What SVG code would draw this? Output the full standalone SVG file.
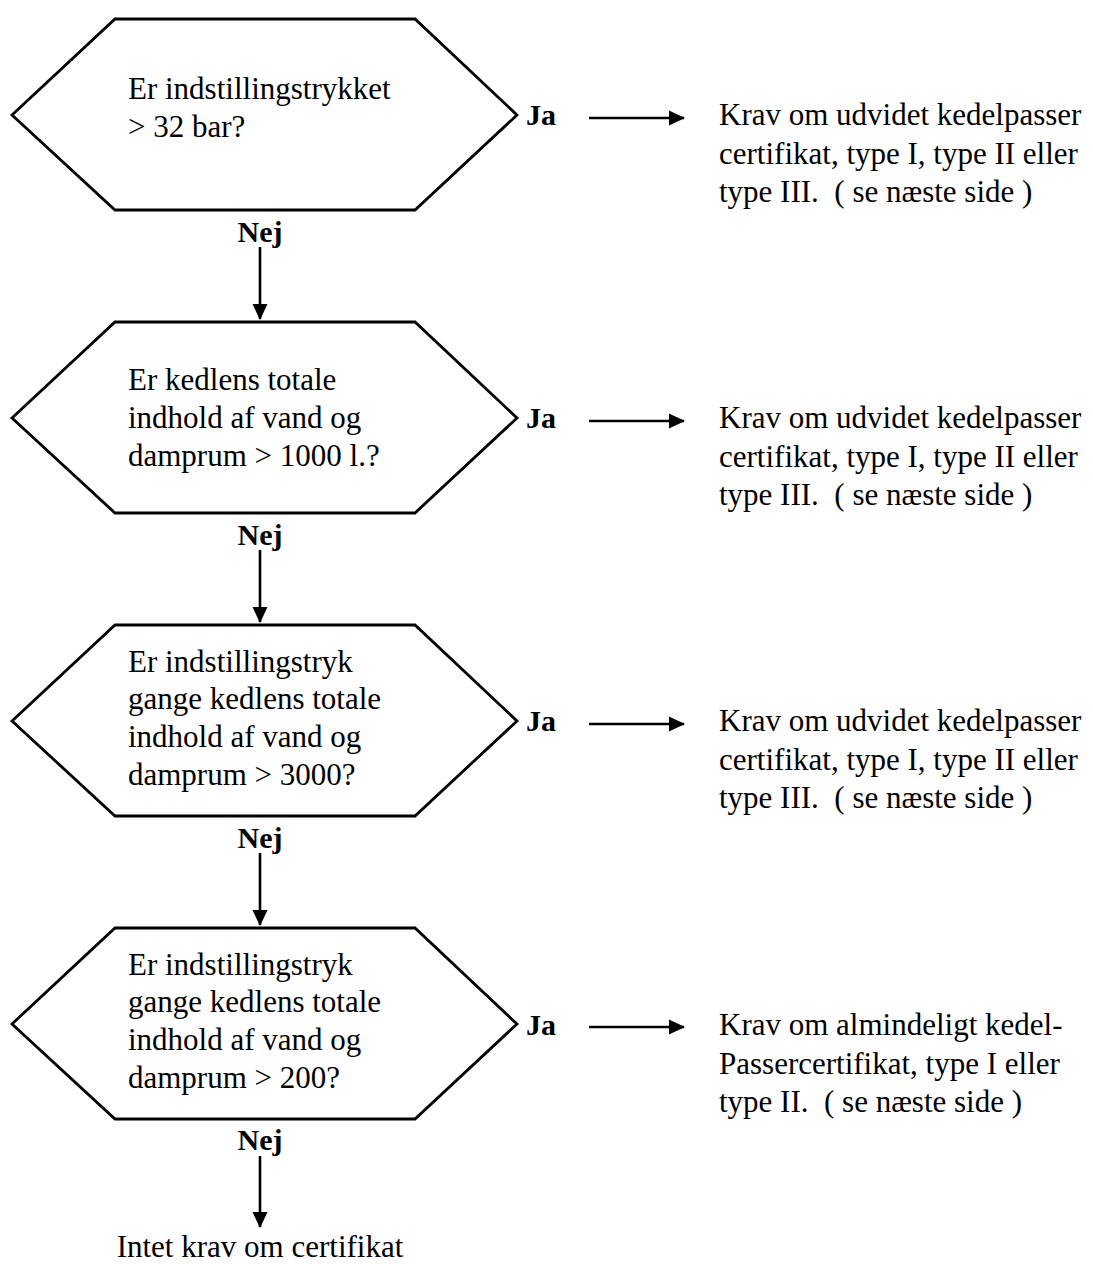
<svg xmlns="http://www.w3.org/2000/svg" width="1093" height="1264" viewBox="0 0 1093 1264">
<style>
.hex{fill:#fff;stroke:#000;stroke-width:2.8;stroke-linejoin:miter}
.t{font-family:"Liberation Serif","Times New Roman",serif;font-size:31px;fill:#000;white-space:pre}
.b{font-family:"Liberation Serif","Times New Roman",serif;font-size:30px;font-weight:bold;fill:#000}
.c{stroke:#000;stroke-width:2.6;fill:none}
</style>
<defs>
<marker id="ah" markerWidth="16" markerHeight="16" refX="15" refY="8" orient="auto" markerUnits="userSpaceOnUse">
<path d="M0,0.5 L16,8 L0,15.5 Z" fill="#000"/>
</marker>
</defs>
<rect width="1093" height="1264" fill="#fff"/>
<g id="q1">
<polygon class="hex" points="12,115 115,19 415,19 517,115 415,210 115,210"/>
<text class="t" x="128" y="99">Er indstillingstrykket</text>
<text class="t" x="128" y="137">&gt; 32 bar?</text>
</g>
<g id="q2">
<polygon class="hex" points="12,418 115,322 415,322 517,418 415,513 115,513"/>
<text class="t" x="128" y="390">Er kedlens totale</text>
<text class="t" x="128" y="428">indhold af vand og</text>
<text class="t" x="128" y="466">damprum &gt; 1000 l.?</text>
</g>
<g id="q3">
<polygon class="hex" points="12,721 115,625 415,625 517,721 415,816 115,816"/>
<text class="t" x="128" y="672">Er indstillingstryk</text>
<text class="t" x="128" y="709">gange kedlens totale</text>
<text class="t" x="128" y="747">indhold af vand og</text>
<text class="t" x="128" y="785">damprum &gt; 3000?</text>
</g>
<g id="q4">
<polygon class="hex" points="12,1024 115,928 415,928 517,1024 415,1119 115,1119"/>
<text class="t" x="128" y="975">Er indstillingstryk</text>
<text class="t" x="128" y="1012">gange kedlens totale</text>
<text class="t" x="128" y="1050">indhold af vand og</text>
<text class="t" x="128" y="1088">damprum &gt; 200?</text>
</g>
<g id="r1">
<text class="t" x="719" y="125">Krav om udvidet kedelpasser</text>
<text class="t" x="719" y="164">certifikat, type I, type II eller</text>
<text class="t" x="719" y="202">type III.  ( se næste side )</text>
</g>
<g id="r2">
<text class="t" x="719" y="428">Krav om udvidet kedelpasser</text>
<text class="t" x="719" y="467">certifikat, type I, type II eller</text>
<text class="t" x="719" y="505">type III.  ( se næste side )</text>
</g>
<g id="r3">
<text class="t" x="719" y="731">Krav om udvidet kedelpasser</text>
<text class="t" x="719" y="770">certifikat, type I, type II eller</text>
<text class="t" x="719" y="808">type III.  ( se næste side )</text>
</g>
<g id="r4">
<text class="t" x="719" y="1035">Krav om almindeligt kedel-</text>
<text class="t" x="719" y="1074">Passercertifikat, type I eller</text>
<text class="t" x="719" y="1112">type II.  ( se næste side )</text>
</g>
<g id="end">
<text class="t" x="260" y="1257" text-anchor="middle">Intet krav om certifikat</text>
</g>
<g id="connectors">
<g class="labels">
<text class="b" x="526" y="125">Ja</text>
<text class="b" x="526" y="428">Ja</text>
<text class="b" x="526" y="731">Ja</text>
<text class="b" x="526" y="1035">Ja</text>
<text class="b" x="260" y="242" text-anchor="middle">Nej</text>
<text class="b" x="260" y="545" text-anchor="middle">Nej</text>
<text class="b" x="260" y="848" text-anchor="middle">Nej</text>
<text class="b" x="260" y="1150" text-anchor="middle">Nej</text>
</g>
<line class="c" x1="589" y1="118" x2="684" y2="118" marker-end="url(#ah)"/>
<line class="c" x1="589" y1="421" x2="684" y2="421" marker-end="url(#ah)"/>
<line class="c" x1="589" y1="724" x2="684" y2="724" marker-end="url(#ah)"/>
<line class="c" x1="589" y1="1027" x2="684" y2="1027" marker-end="url(#ah)"/>
<line class="c" x1="260" y1="247" x2="260" y2="319" marker-end="url(#ah)"/>
<line class="c" x1="260" y1="550" x2="260" y2="622" marker-end="url(#ah)"/>
<line class="c" x1="260" y1="853" x2="260" y2="925" marker-end="url(#ah)"/>
<line class="c" x1="260" y1="1156" x2="260" y2="1227" marker-end="url(#ah)"/>
</g>
</svg>
